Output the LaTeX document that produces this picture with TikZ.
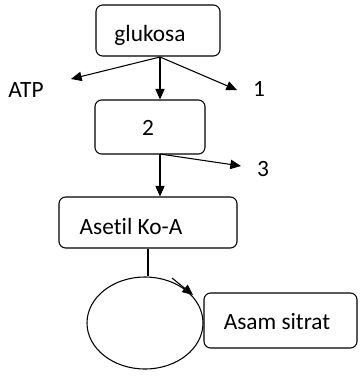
\documentclass[tikz,border=0pt]{standalone}
\usepackage{fontspec}
\setmainfont{Carlito}[Ligatures=NoCommon]
\usetikzlibrary{arrows.meta,shapes.geometric}
\begin{document}
\begin{tikzpicture}[x=0.75pt,y=-0.75pt,line width=0.8pt,
  box/.style={draw,rounded corners=5pt,inner sep=0pt},
  lbl/.style={inner sep=0pt,font=\fontsize{17.5}{21}\selectfont},
  arr/.style={-{Triangle[length=8pt,width=7pt]}}]
\useasboundingbox (0,0) rectangle (362,376);
% boxes
\node[box,minimum width=93pt,minimum height=38.25pt] (glu) at (158,30.5) {};
\node[box,minimum width=82.5pt,minimum height=40.5pt] (b2) at (150,127) {};
\node[box,minimum width=133.5pt,minimum height=38.25pt] (ase) at (148,222.5) {};
\node[box,minimum width=114.75pt,minimum height=41.25pt] (asam) at (280.5,320.5) {};
\node[draw,ellipse,minimum width=87pt,minimum height=69pt,inner sep=0pt] (ell) at (145,323) {};
% texts
\node[lbl] (tglu) at (150,35) {glukosa};
\node[lbl] (t2) at (148,128) {2};
\node[lbl] (tatp) at (26,90) {ATP};
\node[lbl] (t1) at (259,89) {1};
\node[lbl] (t3) at (263,169) {3};
\node[lbl] (tase) at (131,226) {Asetil Ko-A};
\node[lbl] (tasam) at (277,322) {Asam sitrat};
% connectors
\coordinate (g) at (160,57);
\coordinate (eatp) at (71,79);
\coordinate (e1) at (237,90);
\coordinate (s2) at (160,154);
\coordinate (e3) at (241,166);
\coordinate (c1) at (172,278);
\coordinate (c2) at (193,295);
\draw[arr] (g) -- (eatp);
\draw[arr] (g) -- (e1);
\draw[arr] (g) -- (g |- b2.north);
\draw[arr] (s2) -- (e3);
\draw[arr] (s2) -- (s2 |- ase.north);
\draw (ase.south) -- (ase.south |- ell.north);
\draw[arr] (c1) -- (c2);
\end{tikzpicture}
\end{document}
